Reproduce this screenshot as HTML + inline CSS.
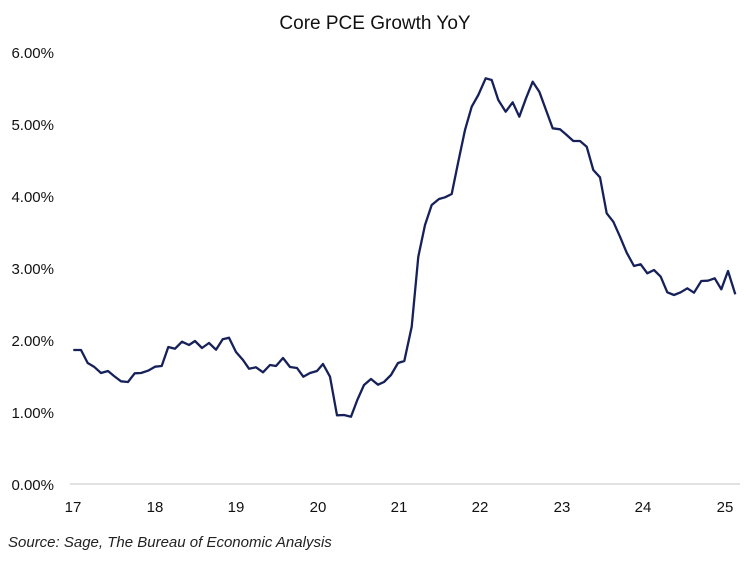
<!DOCTYPE html>
<html><head><meta charset="utf-8"><style>body{margin:0;background:#fff}</style></head><body>
<svg width="750" height="563" xmlns="http://www.w3.org/2000/svg" font-family="Liberation Sans, sans-serif">
<rect width="750" height="563" fill="#fff"/>
<text x="375" y="29" text-anchor="middle" font-size="19" fill="#111">Core PCE Growth YoY</text>
<g font-size="15" fill="#111" text-anchor="end">
<text x="54" y="58">6.00%</text><text x="54" y="130">5.00%</text><text x="54" y="202">4.00%</text>
<text x="54" y="274">3.00%</text><text x="54" y="346">2.00%</text><text x="54" y="418">1.00%</text><text x="54" y="490">0.00%</text>
</g>
<line x1="70" y1="484" x2="740" y2="484" stroke="#d9d9d9" stroke-width="1.5"/>
<g font-size="15" fill="#111" text-anchor="middle">
<text x="73" y="512">17</text><text x="155" y="512">18</text><text x="236" y="512">19</text><text x="318" y="512">20</text>
<text x="399" y="512">21</text><text x="480" y="512">22</text><text x="562" y="512">23</text><text x="643" y="512">24</text><text x="725" y="512">25</text>
</g>
<polyline fill="none" stroke="#16215a" stroke-width="2.3" stroke-linejoin="round" points="73.3,350 81,350 87.7,363 94,366.7 101,373 108,371 114,376 121,381.3 128,382 134.7,373.3 141,373 148,370.7 155,366.7 161.7,366 168.3,347 175,348.7 182,341.7 189,345 195,341 202,348 209,343 216,349.7 222.7,339.3 229,337.7 236,352 243,360 249,368.7 256,367.3 263,372.3 270,365 276,366 283,358 290,367 297,368 303.3,376.7 310,373 317,371 323,364 330,376.7 337,415.3 344,415 351,416.7 357.3,400 364,385 371,379 378,384.7 384,382 391,375 398,363 404.3,361 411.7,326.7 418.3,256.7 425,225 431.7,205 439,199 445,197.3 451.7,194 458.3,161.7 465,130 471.7,106.7 478.3,95 485.7,78.3 491.7,80 498.3,100 505.7,111.7 512.7,102.3 519.3,116.7 526,98.3 532.7,81.7 539.3,91.7 546,110 552.7,128.3 560,129.3 566.7,135 573.3,141 580,141 586.7,146.7 593.3,170 600,177.3 606.7,213.3 613.3,221.7 620,236.7 626.7,252.7 634,266 640.7,264.3 647.3,273.3 654,270 660.7,276.7 667.3,292.3 674,295 680.7,292.3 687.3,288.3 694,292.7 701.3,281 708,280.7 714.7,278.3 721.3,289.3 728,271 735.3,294.3"/>
<text x="8" y="547" font-size="15" font-style="italic" fill="#222">Source: Sage, The Bureau of Economic Analysis</text>
</svg>
</body></html>
